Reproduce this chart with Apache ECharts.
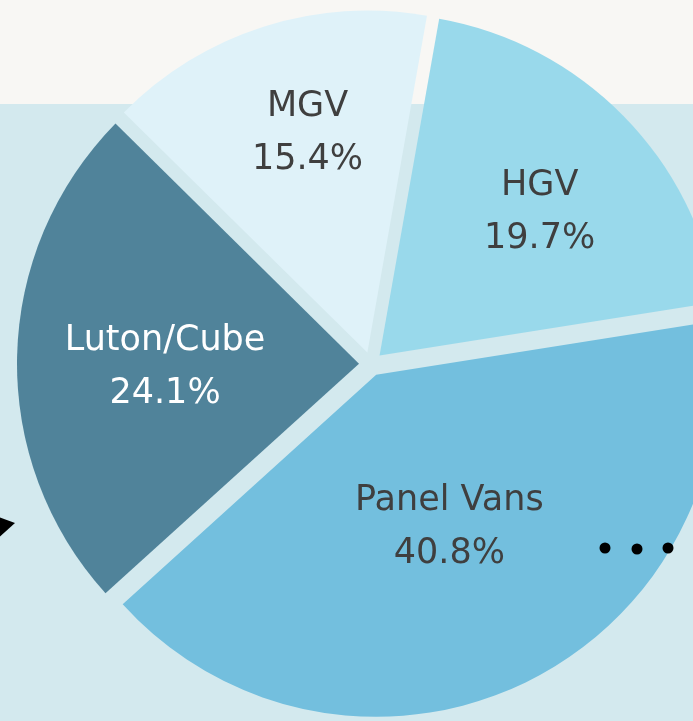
<!DOCTYPE html>
<html>
<head>
<meta charset="utf-8">
<script src="https://cdn.jsdelivr.net/npm/echarts@6/dist/echarts.min.js"></script>
<style>
  html, body { margin: 0; padding: 0; }
  body { width: 693px; height: 721px; overflow: hidden;
         background: linear-gradient(to bottom, #f8f7f4 0, #f8f7f4 104px, #d3e9ee 104px, #d3e9ee 100%); }
  #chart { width: 693px; height: 721px; }
</style>
</head>
<body>
<div id="chart"></div>
<script>
// Vehicle mix by type (percent), clockwise from the upper-left slice
const categories = ['MGV', 'HGV', 'Panel Vans', 'Luton/Cube'];
const shares = [15.4, 19.7, 40.8, 24.1];

// Slice fills and label colours
const fills = { 'MGV': '#dff2f9', 'HGV': '#99d9eb', 'Panel Vans': '#73bfde', 'Luton/Cube': '#50839a' };
const inks = { 'MGV': '#3f3f3f', 'HGV': '#3f3f3f', 'Panel Vans': '#3f3f3f', 'Luton/Cube': '#ffffff' };
// Small nudges so each label sits in the visual middle of its wedge
const labelNudge = { 'MGV': [-7, -53], 'HGV': [36, -21], 'Panel Vans': [-2, -4], 'Luton/Cube': [-20, 7] };

const chart = echarts.init(document.getElementById('chart'), null, { renderer: 'canvas' });

const pieData = categories.map((name, i) => {
  const label = { color: inks[name], offset: labelNudge[name] };
  const itemStyle = { color: fills[name] };
  return {
    name,
    value: shares[i],
    selected: true,
    itemStyle,
    label,
    select: { itemStyle, label }
  };
});

chart.setOption({
  animation: false,
  backgroundColor: 'transparent',
  series: [{
    type: 'pie',
    center: [371, 364],
    radius: [0, 342],
    startAngle: 135.4,
    clockwise: true,
    selectedMode: 'multiple',
    selectedOffset: 12,
    silent: true,
    avoidLabelOverlap: false,
    emphasis: { disabled: true },
    label: {
      show: true,
      position: 'inside',
      formatter: '{b}\n{c}%',
      fontFamily: 'DejaVu Sans',
      fontSize: 35,
      lineHeight: 53,
      fontWeight: 'normal'
    },
    labelLine: { show: false },
    data: pieData
  }],
  graphic: [
    // arrowhead entering from the left edge
    { type: 'polygon', z: 100, shape: { points: [[-4, 516], [15, 523], [-4, 540]] }, style: { fill: '#000' }, silent: true },
    // ellipsis dots
    { type: 'circle', z: 100, shape: { cx: 605, cy: 548, r: 5.5 }, style: { fill: '#000' }, silent: true },
    { type: 'circle', z: 100, shape: { cx: 637, cy: 549, r: 5.5 }, style: { fill: '#000' }, silent: true },
    { type: 'circle', z: 100, shape: { cx: 668, cy: 548, r: 5.5 }, style: { fill: '#000' }, silent: true }
  ]
});
</script>
</body>
</html>
